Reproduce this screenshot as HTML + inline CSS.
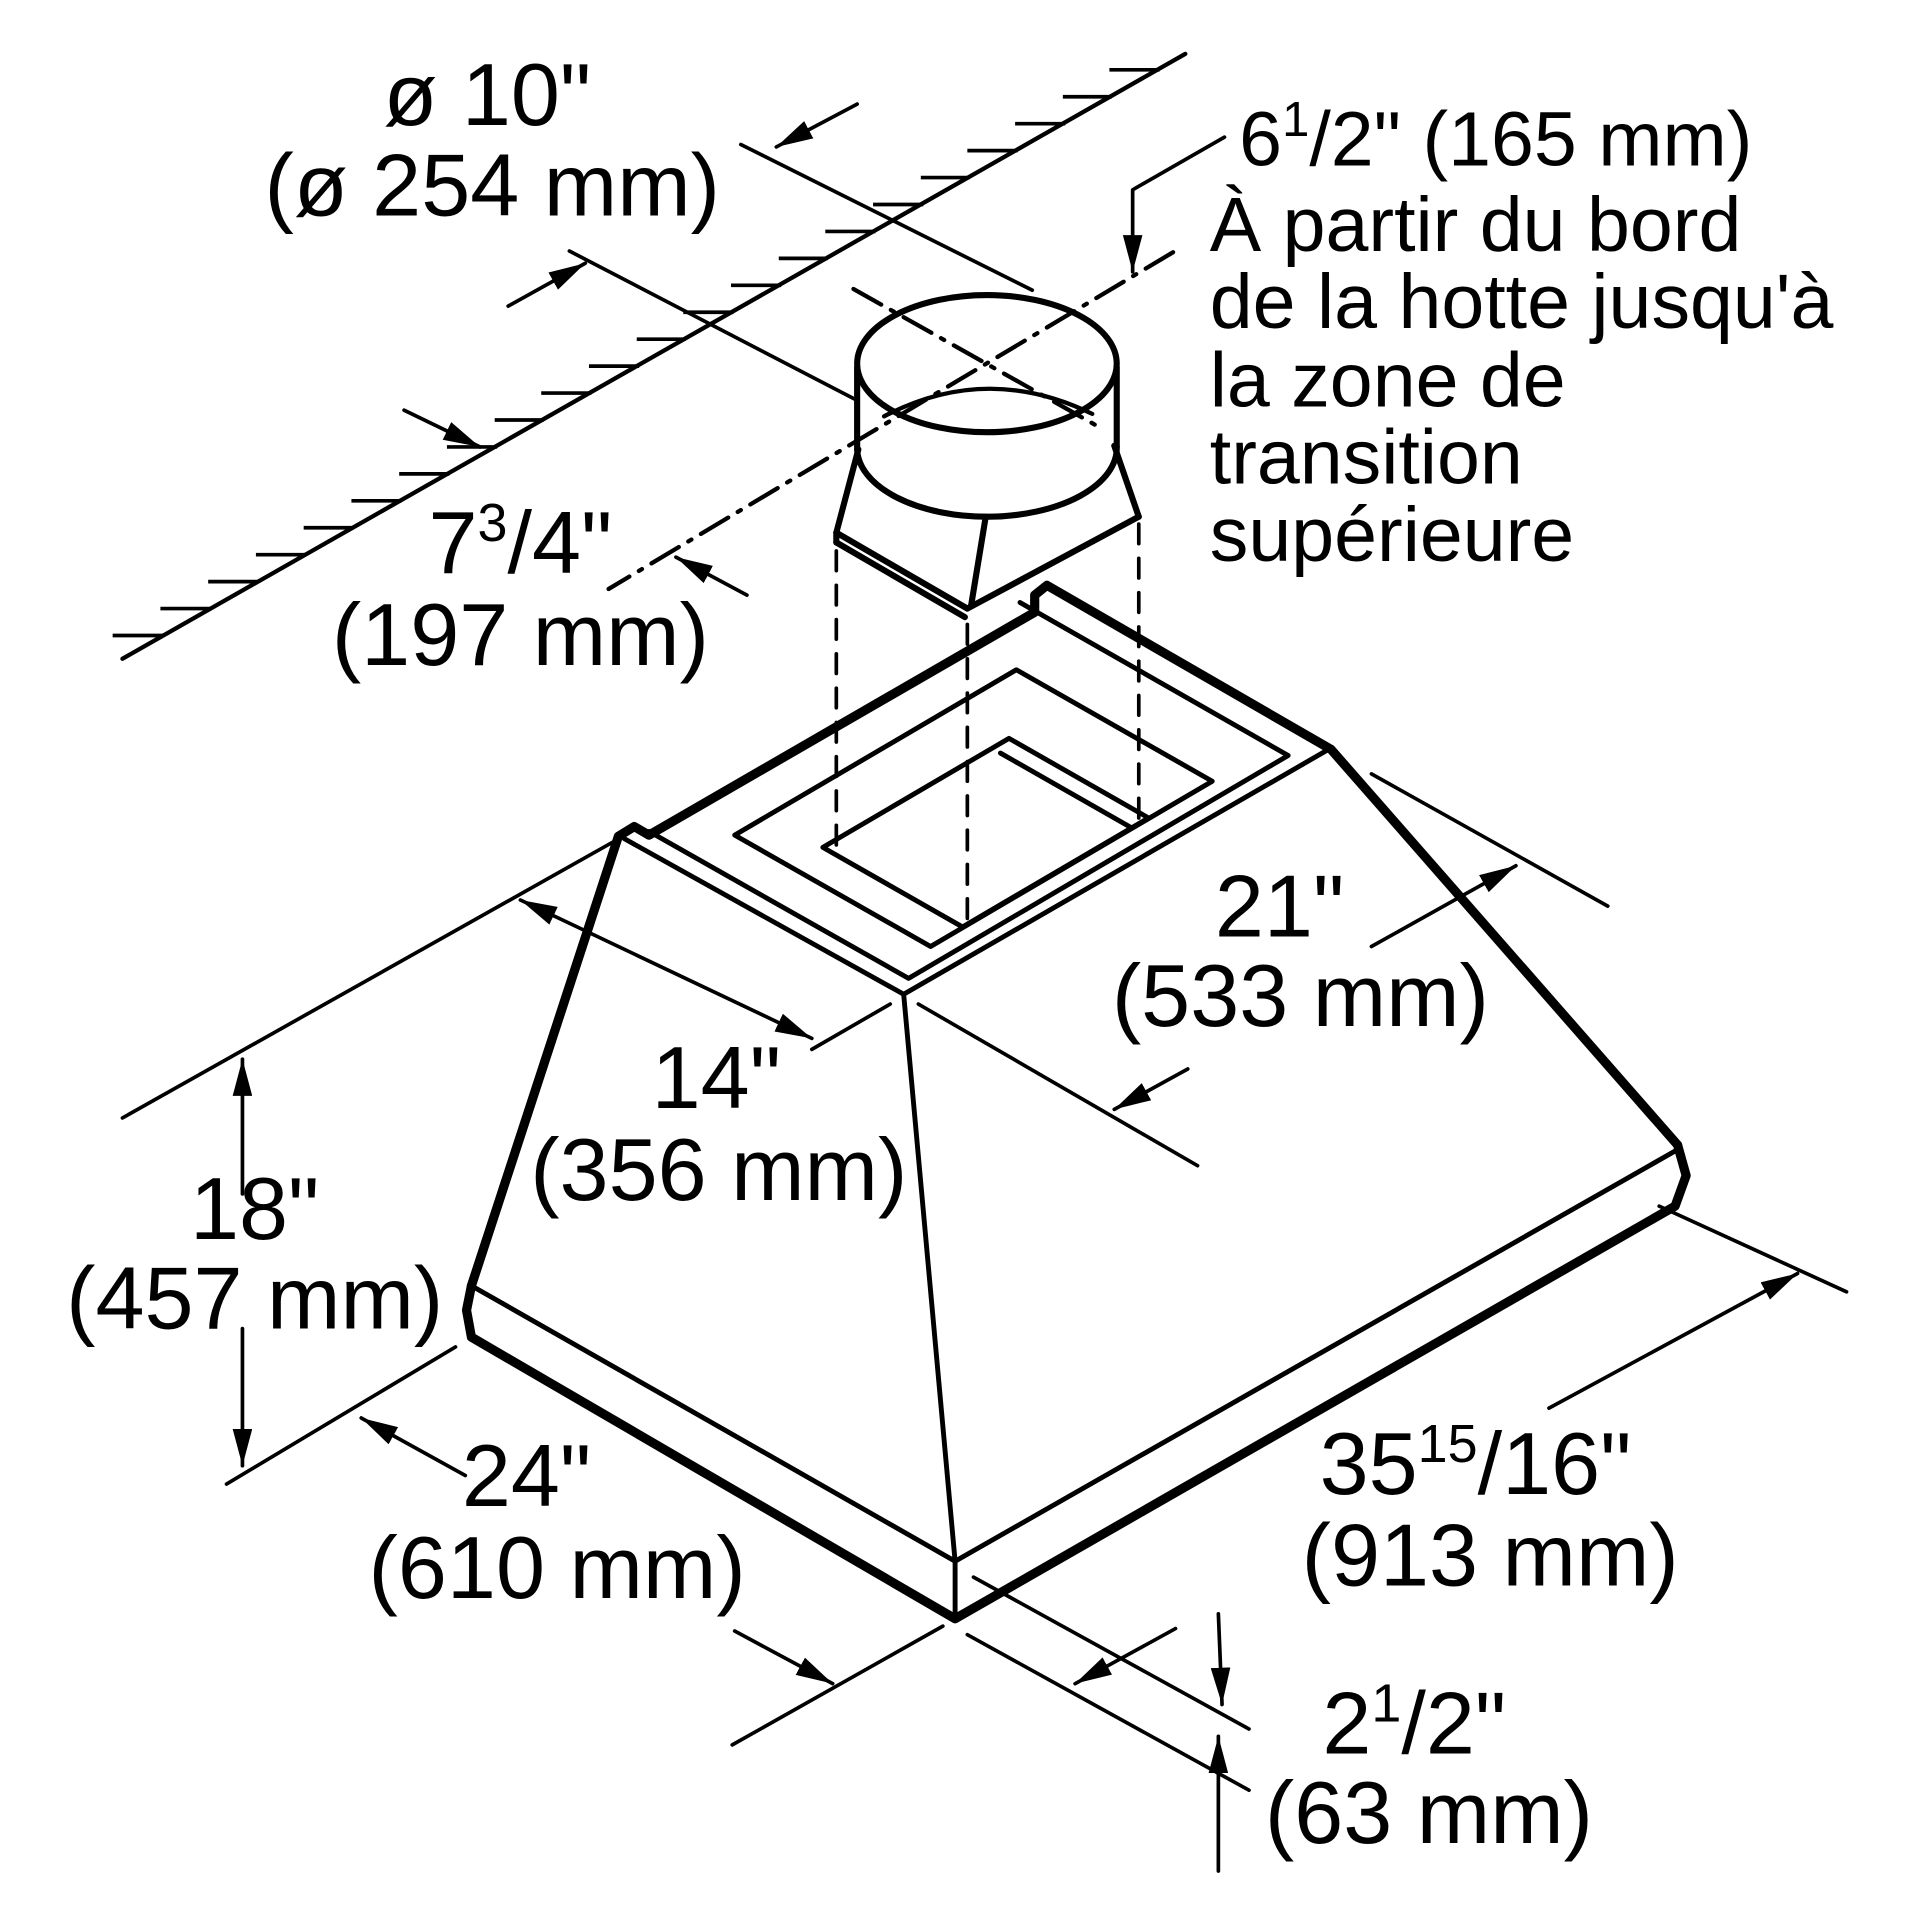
<!DOCTYPE html>
<html><head><meta charset="utf-8"><style>
html,body{margin:0;padding:0;background:#fff;}
svg{display:block;}
text{font-family:"Liberation Sans",sans-serif;fill:#000;}
</style></head><body>
<svg width="1920" height="1920" viewBox="0 0 1568 1568" xmlns="http://www.w3.org/2000/svg">
<defs>
<marker id="a" viewBox="0 0 30 16" refX="30" refY="8" markerWidth="30" markerHeight="16" markerUnits="userSpaceOnUse" orient="auto-start-reverse">
<path d="M0,0 L30,8 L0,16 z" fill="#000"/></marker>
</defs>
<g stroke="#000" fill="none" stroke-linecap="round" stroke-linejoin="round">
<line x1="100" y1="538" x2="968" y2="44" stroke-width="3.5"/>
<g stroke-width="5">
<ellipse cx="806" cy="297" rx="106" ry="56"/>
<line x1="700" y1="300" x2="700" y2="367"/>
<line x1="912" y1="300" x2="912" y2="365"/>
<path d="M700,367 A106,56 0 0 0 912,365"/>
<path d="M722,340 Q806,296 892,338" stroke-width="3.5"/>
<line x1="701" y1="367" x2="683" y2="435"/>
<line x1="910" y1="364" x2="930" y2="422"/>
<line x1="683" y1="435" x2="790" y2="497"/>
<line x1="930" y1="422" x2="790" y2="497"/>
<line x1="805" y1="422" x2="793" y2="495"/>
<line x1="683" y1="435" x2="683" y2="443"/>
<line x1="683" y1="443" x2="788" y2="504"/>
</g>
<g stroke-width="3.5" stroke-dasharray="26,9,3,9">
<line x1="697" y1="236" x2="898" y2="349"/>
<line x1="958" y1="206" x2="497" y2="481"/>
</g>
<g stroke-width="3" stroke-dasharray="16,12">
<line x1="683" y1="450" x2="683" y2="690"/>
<line x1="930" y1="428" x2="930" y2="668"/>
<line x1="790" y1="510" x2="790" y2="757"/>
</g>
<g stroke-width="7.5">
<polyline points="385,1050 505,683 518,675 530,682 845,500 845,486 855,478 1087,612 1370,935"/>
<polyline points="385,1050 381,1070 385,1092 780,1322 1368,985 1377,960 1370,935"/>
</g>
<g stroke-width="4">
<polyline points="385,1050 780,1275 1368,940"/>
<line x1="780" y1="1275" x2="780" y2="1322"/>
<line x1="738" y1="812" x2="780" y2="1275"/>
<polyline points="510,685 738,812 1085,612"/>
<polyline points="530,679 742,799 1052,617 833,492"/>
<polygon points="600,682 830,547 990,638 760,773"/>
<polygon points="672,692 824,603 938,668 786,757"/>
<line x1="817" y1="615" x2="924" y2="676"/>
</g>
<g stroke-width="3">
<line x1="605" y1="118" x2="843" y2="237"/>
<line x1="465" y1="205" x2="700" y2="327"/>
<line x1="700" y1="85" x2="634" y2="120" marker-end="url(#a)"/>
<line x1="415" y1="250" x2="478" y2="215" marker-end="url(#a)"/>
<line x1="330" y1="335" x2="392" y2="365" marker-end="url(#a)"/>
<line x1="610" y1="486" x2="552" y2="455" marker-end="url(#a)"/>
<polyline points="1000,112 925,155 925,222" marker-end="url(#a)"/>
<line x1="100" y1="913" x2="500" y2="688"/>
<line x1="663" y1="857" x2="727" y2="820"/>
<line x1="425" y1="735" x2="663" y2="848" marker-start="url(#a)" marker-end="url(#a)"/>
<line x1="1120" y1="632" x2="1313" y2="740"/>
<line x1="750" y1="820" x2="978" y2="952"/>
<line x1="1120" y1="773" x2="1238" y2="707" marker-end="url(#a)"/>
<line x1="970" y1="873" x2="910" y2="906" marker-end="url(#a)"/>
<line x1="198" y1="975" x2="198" y2="865" marker-end="url(#a)"/>
<line x1="198" y1="1085" x2="198" y2="1197" marker-end="url(#a)"/>
<line x1="185" y1="1212" x2="372" y2="1100"/>
<line x1="598" y1="1425" x2="770" y2="1328"/>
<line x1="380" y1="1205" x2="295" y2="1158" marker-end="url(#a)"/>
<line x1="600" y1="1332" x2="680" y2="1375" marker-end="url(#a)"/>
<line x1="1355" y1="985" x2="1508" y2="1055"/>
<line x1="795" y1="1288" x2="1020" y2="1412"/>
<line x1="790" y1="1335" x2="1020" y2="1462"/>
<line x1="1265" y1="1150" x2="1468" y2="1040" marker-end="url(#a)"/>
<line x1="960" y1="1330" x2="878" y2="1375" marker-end="url(#a)"/>
<line x1="995" y1="1318" x2="998" y2="1392" marker-end="url(#a)"/>
<line x1="995" y1="1528" x2="995" y2="1418" marker-end="url(#a)"/>
</g>
</g>
<g font-size="72" text-anchor="middle">
<text x="398" y="102">ø 10"</text>
<text x="402" y="176">(ø 254 mm)</text>
<text x="425" y="468">7<tspan font-size="44" dy="-26">3</tspan><tspan dy="26">/4"</tspan></text>
<text x="425" y="543">(197 mm)</text>
<text x="1045" y="765">21"</text>
<text x="1062" y="838">(533 mm)</text>
<text x="585" y="905">14"</text>
<text x="587" y="980">(356 mm)</text>
<text x="208" y="1012">18"</text>
<text x="208" y="1085">(457 mm)</text>
<text x="430" y="1230">24"</text>
<text x="455" y="1305">(610 mm)</text>
<text x="1205" y="1220">35<tspan font-size="44" dy="-26">15</tspan><tspan dy="26">/16"</tspan></text>
<text x="1217" y="1295">(913 mm)</text>
<text x="1155" y="1432">2<tspan font-size="44" dy="-26">1</tspan><tspan dy="26">/2"</tspan></text>
<text x="1167" y="1505">(63 mm)</text>
</g>
<g font-size="63">
<text x="1012" y="135">6<tspan font-size="40" dy="-24">1</tspan><tspan dy="24">/2" (165 mm)</tspan></text>
<text x="988" y="205">À partir du bord</text>
<text x="988" y="268">de la hotte jusqu'à</text>
<text x="988" y="332">la zone de</text>
<text x="988" y="395">transition</text>
<text x="988" y="458">supérieure</text>
</g>
<g stroke="#000" stroke-width="3">
<line x1="92" y1="519" x2="134" y2="519"/>
<line x1="131" y1="497" x2="172" y2="497"/>
<line x1="170" y1="475" x2="211" y2="475"/>
<line x1="209" y1="453" x2="250" y2="453"/>
<line x1="248" y1="431" x2="289" y2="431"/>
<line x1="287" y1="409" x2="328" y2="409"/>
<line x1="326" y1="387" x2="367" y2="387"/>
<line x1="365" y1="365" x2="406" y2="365"/>
<line x1="404" y1="343" x2="444" y2="343"/>
<line x1="442" y1="321" x2="483" y2="321"/>
<line x1="481" y1="299" x2="522" y2="299"/>
<line x1="520" y1="277" x2="560" y2="277"/>
<line x1="558" y1="255" x2="599" y2="255"/>
<line x1="597" y1="233" x2="638" y2="233"/>
<line x1="636" y1="211" x2="676" y2="211"/>
<line x1="674" y1="189" x2="715" y2="189"/>
<line x1="713" y1="167" x2="754" y2="167"/>
<line x1="752" y1="145" x2="792" y2="145"/>
<line x1="790" y1="123" x2="831" y2="123"/>
<line x1="829" y1="101" x2="870" y2="101"/>
<line x1="868" y1="79" x2="908" y2="79"/>
<line x1="906" y1="57" x2="947" y2="57"/>
</g>
</svg>
</body></html>
